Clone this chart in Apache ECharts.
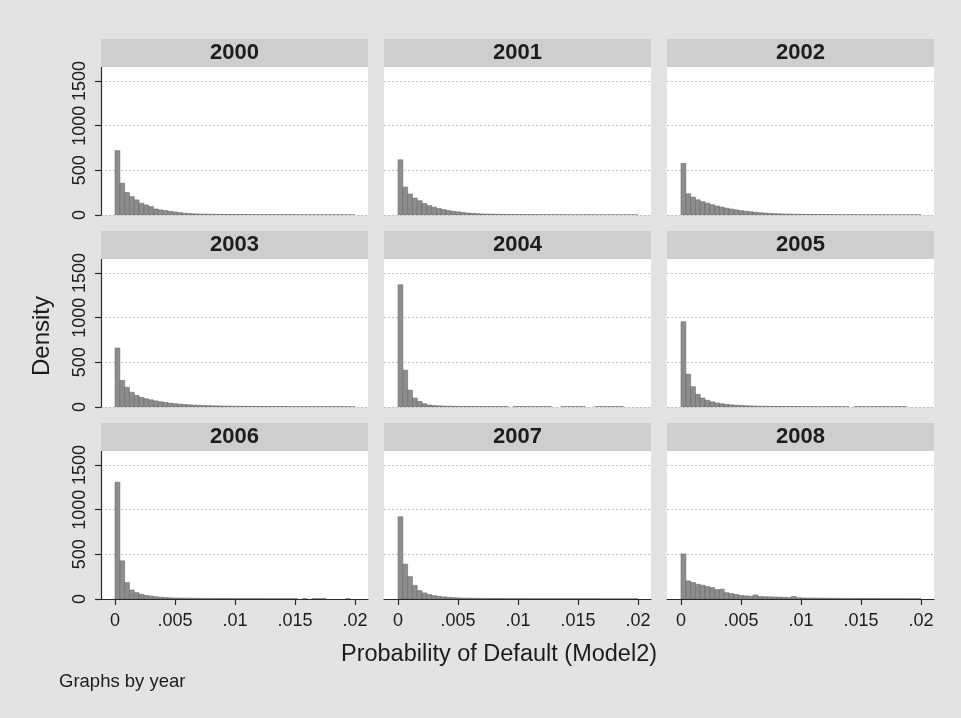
<!DOCTYPE html>
<html>
<head>
<meta charset="utf-8">
<script src="https://cdn.jsdelivr.net/npm/echarts@6/dist/echarts.min.js"></script>
<style>
html,body{margin:0;padding:0;background:#e3e3e3;}
#c{width:961px;height:718px;}
</style>
</head>
<body>
<div id="c"></div>
<script>
// ---- data ----
const years = ['2000','2001','2002','2003','2004','2005','2006','2007','2008'];
const binStart = 0;
const binWidth = 0.0004;
const density2000 = [720,356,251,206,169,131,112,94,67,56,49,41,34,26,20,16,13,11,10,9,8,7,7,6,6,5,5,5,4,4,4,4,3,3,3,3,3,3,2,2,2,2,2,2,2,2,2,2,1,1];
const density2001 = [618,312,235,190,160,128,105,88,72,60,50,42,35,28,22,18,15,12,10,9,8,7,6,6,5,5,4,4,4,3,3,3,3,3,2,2,2,2,2,2,2,2,2,1,1,1,1,1,1,1];
const density2002 = [578,238,200,170,150,132,115,100,88,76,66,57,49,42,36,30,25,21,18,15,13,11,10,9,8,7,6,6,5,5,4,4,4,3,3,3,3,2,2,2,2,2,2,2,1,1,1,1,1,1];
const density2003 = [660,297,220,165,130,108,92,80,68,58,50,43,37,32,28,24,21,19,17,15,13,12,11,10,9,8,8,7,7,6,6,6,5,5,5,5,4,4,4,4,4,3,3,3,3,3,3,3,2,2];
const density2004 = [1368,412,188,100,62,36,22,16,13,10,9,8,7,6,6,5,5,5,4,4,4,4,4,0,4,4,3,3,3,3,3,3,0,0,3,3,3,3,3,0,0,3,3,3,3,3,3,0,0,0];
const density2005 = [955,367,227,142,100,75,58,45,36,29,24,20,17,14,12,10,9,8,7,6,6,5,5,5,4,4,4,4,3,3,3,3,3,3,3,0,3,3,3,3,3,3,3,3,3,3,3,0,0,0];
const density2006 = [1307,427,183,100,71,53,40,32,25,20,16,13,11,10,9,8,7,7,6,6,5,5,5,5,4,4,4,4,4,4,4,4,3,3,3,3,3,3,0,3,0,3,3,3,0,0,0,0,3,0];
const density2007 = [920,390,250,153,94,68,50,38,30,24,19,15,12,10,9,8,7,6,6,5,5,5,4,4,4,4,4,3,3,3,3,3,3,3,3,3,3,3,3,3,3,3,2,2,2,2,2,2,2,2];
const density2008 = [505,202,184,165,154,139,127,105,110,70,60,50,40,35,30,45,28,25,24,22,20,18,16,28,14,12,11,10,9,9,8,8,7,7,6,6,6,5,5,5,5,4,4,4,4,4,3,3,3,3];
const densities = [density2000,density2001,density2002,density2003,density2004,density2005,density2006,density2007,density2008];
const xTicks = [0, 0.005, 0.01, 0.015, 0.02];
const xTickLabels = ['0', '.005', '.01', '.015', '.02'];
const yTicks = [0, 500, 1000, 1500];
const yTickLabels = ['0', '500', '1000', '1500'];
const xTitle = 'Probability of Default (Model2)';
const yTitle = 'Density';
const note = 'Graphs by year';

// ---- layout ----
const FONT = '"Liberation Sans", Arial, sans-serif';
const TXT = '#1c1c1c';
const GL = 101, CSTEP = 283, GW = 267;
const GT = 67, RSTEP = 192, GH = 148;
const STRIP_H = 28;
const X_MIN = -0.00117, X_MAX = 0.02108;
const Y_MIN = 0, Y_MAX = 1657;

const grids = [], xAxes = [], yAxes = [], series = [], graphics = [];

function renderBar(params, api) {
  const h = api.value(2);
  if (!(h > 0)) return null;
  const p0 = api.coord([api.value(0), h]);
  const p1 = api.coord([api.value(1), 0]);
  return {
    type: 'rect',
    shape: { x: p0[0], y: p0[1], width: p1[0] - p0[0], height: p1[1] - p0[1] },
    style: { fill: '#8d8d8d', stroke: '#6a6a6a', lineWidth: 0.6 }
  };
}

years.forEach((yr, i) => {
  const col = i % 3, row = Math.floor(i / 3);
  const left = GL + col * CSTEP, top = GT + row * RSTEP;
  grids.push({ left: left, top: top, width: GW, height: GH, show: true,
    backgroundColor: '#ffffff', borderWidth: 0, containLabel: false, outerBoundsMode: 'none' });
  const bottomRow = row === 2, firstCol = col === 0;
  xAxes.push({
    type: 'value', gridIndex: i, min: X_MIN, max: X_MAX, position: 'bottom',
    axisLine: { show: bottomRow, onZero: false, lineStyle: { color: '#2a2a2a', width: 1.2 } },
    axisTick: { show: bottomRow, customValues: xTicks, length: 6, inside: false, lineStyle: { color: '#2a2a2a', width: 1.2 } },
    axisLabel: { show: bottomRow, customValues: xTicks, margin: 13, fontSize: 18, fontFamily: FONT, color: TXT,
      showMinLabel: true, showMaxLabel: true, hideOverlap: false,
      formatter: v => { const k = xTicks.findIndex(t => Math.abs(t - v) < 1e-9); return k >= 0 ? xTickLabels[k] : ''; } },
    splitLine: { show: false }
  });
  yAxes.push({
    type: 'value', gridIndex: i, min: Y_MIN, max: Y_MAX, position: 'left',
    axisLine: { show: firstCol, onZero: false, lineStyle: { color: '#2a2a2a', width: 1.2 } },
    axisTick: { show: firstCol, customValues: yTicks, length: 6, lineStyle: { color: '#2a2a2a', width: 1.2 } },
    axisLabel: { show: firstCol, customValues: yTicks, rotate: 90, margin: 12, fontSize: 18, fontFamily: FONT, color: TXT,
      showMinLabel: true, showMaxLabel: true, hideOverlap: false,
      formatter: v => { const k = yTicks.indexOf(v); return k >= 0 ? yTickLabels[k] : ''; } },
    splitLine: { show: true, lineStyle: { color: '#c4c4c4', width: 1, type: [2, 2] } }
  });
  series.push({
    type: 'custom', xAxisIndex: i, yAxisIndex: i, renderItem: renderBar, clip: true,
    encode: { x: [0, 1], y: 2 },
    data: densities[i].map((d, k) => [binStart + k * binWidth, binStart + (k + 1) * binWidth, d])
  });
  graphics.push({ type: 'rect', left: left, top: top - STRIP_H, shape: { width: GW, height: STRIP_H },
    style: { fill: '#cecece' }, silent: true, z: 1 });
  graphics.push({ type: 'text', x: left + GW / 2, y: top - STRIP_H / 2, silent: true, z: 2,
    style: { text: yr, fill: TXT, font: 'bold 22px ' + FONT, textAlign: 'center', textVerticalAlign: 'middle' } });
});

graphics.push({ type: 'text', x: 42, y: 336, rotation: Math.PI / 2, silent: true,
  style: { text: yTitle, fill: TXT, font: '24px ' + FONT, textAlign: 'center', textVerticalAlign: 'middle' } });
graphics.push({ type: 'text', x: 499, y: 655, silent: true,
  style: { text: xTitle, fill: TXT, font: '23.5px ' + FONT, textAlign: 'center', textVerticalAlign: 'middle' } });
graphics.push({ type: 'text', x: 59, y: 682, silent: true,
  style: { text: note, fill: TXT, font: '18.5px ' + FONT, textAlign: 'left', textVerticalAlign: 'middle' } });

const chart = echarts.init(document.getElementById('c'), null, { renderer: 'canvas' });
chart.setOption({
  backgroundColor: '#e3e3e3',
  animation: false,
  grid: grids,
  xAxis: xAxes,
  yAxis: yAxes,
  series: series,
  graphic: { elements: graphics }
});
</script>
</body>
</html>
